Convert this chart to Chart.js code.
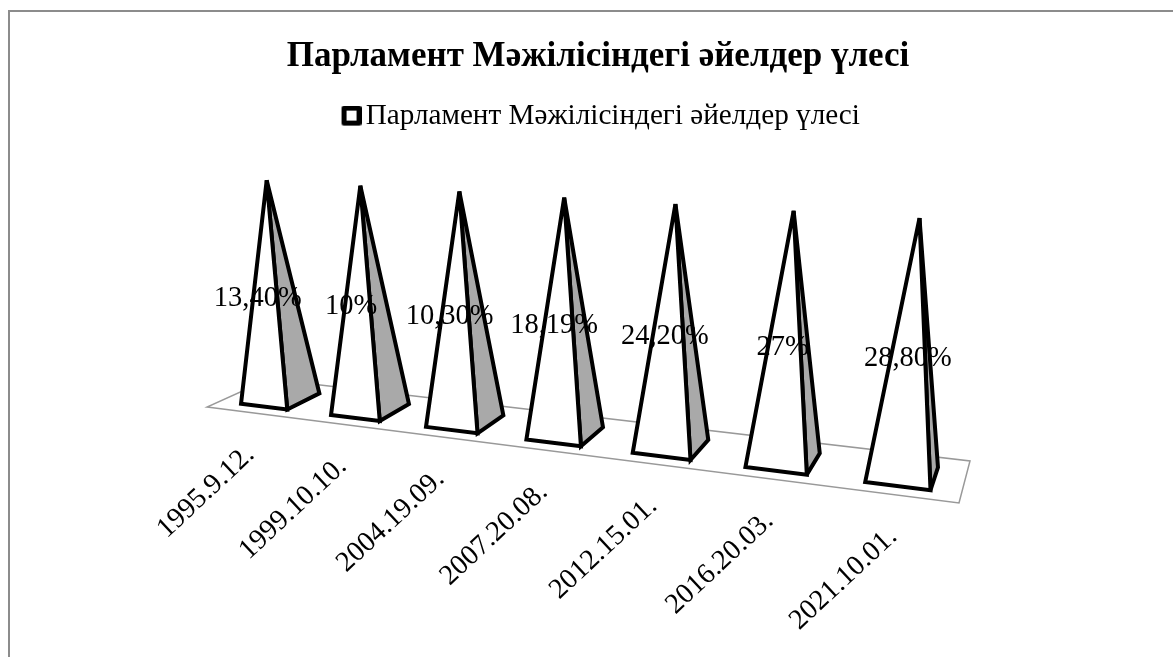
<!DOCTYPE html>
<html>
<head>
<meta charset="utf-8">
<title>Парламент Мәжілісіндегі әйелдер үлесі</title>
<script src="https://cdn.jsdelivr.net/npm/chart.js@4/dist/chart.umd.min.js"></script>
<style>
  html, body { margin: 0; padding: 0; background: #fff; }
  canvas { display: block; }
</style>
</head>
<body>
<canvas id="shareChart" width="1173" height="657"></canvas>
<script>
// data
const chartTitle = "Парламент Мәжілісіндегі әйелдер үлесі";
const electionDates = ["1995.9.12.", "1999.10.10.", "2004.19.09.", "2007.20.08.", "2012.15.01.", "2016.20.03.", "2021.10.01."];
const womenShare = [13.4, 10, 10.3, 18.19, 24.2, 27, 28.8];
// 100% stacked chart, so every pyramid reaches the top of the axis
const stackedPercent = [100, 100, 100, 100, 100, 100, 100];

const serif = "'Liberation Serif', 'Times New Roman', serif";

// floor of the 3D box on the canvas: front-left, front-right, rear-right, rear-left
const floorA = [207, 407], floorB = [959, 503], floorC = [970, 461], floorD = [269, 379];
// vanishing point of the vertical edges and how fast height runs towards it
const vertical = [607, 4940], verticalRate = -0.0468;

const sx = floorA[0] - floorB[0] + floorC[0] - floorD[0];
const sy = floorA[1] - floorB[1] + floorC[1] - floorD[1];
const dx1 = floorB[0] - floorC[0], dx2 = floorD[0] - floorC[0];
const dy1 = floorB[1] - floorC[1], dy2 = floorD[1] - floorC[1];
const den = dx1 * dy2 - dx2 * dy1;
const g = (sx * dy2 - dx2 * sy) / den;
const h = (dx1 * sy - sx * dy1) / den;

// u along the categories, v into the depth, t up the value axis (all 0..1)
function project(u, v, t) {
  const w = g * u + h * v + 1 + t * verticalRate;
  const x = (floorB[0] - floorA[0] + g * floorB[0]) * u + (floorD[0] - floorA[0] + h * floorD[0]) * v + floorA[0] + t * verticalRate * vertical[0];
  const y = (floorB[1] - floorA[1] + g * floorB[1]) * u + (floorD[1] - floorA[1] + h * floorD[1]) * v + floorA[1] + t * verticalRate * vertical[1];
  return [x / w, y / w];
}

function polygon(ctx, points, fill, stroke, width) {
  ctx.beginPath();
  points.forEach((p, i) => i ? ctx.lineTo(p[0], p[1]) : ctx.moveTo(p[0], p[1]));
  ctx.closePath();
  ctx.fillStyle = fill;
  ctx.lineWidth = width;
  ctx.strokeStyle = stroke;
  if (fill !== "transparent") ctx.fill();
  ctx.stroke();
}

function formatShare(value) {
  return Number.isInteger(value) ? value + "%" : value.toFixed(2).replace(".", ",") + "%";
}

// legend marker, off centre in its canvas because the text sits closer than Chart.js puts it
function legendMarker() {
  const c = document.createElement("canvas");
  c.width = 36;
  c.height = 22;
  const m = c.getContext("2d");
  m.strokeStyle = "#000";
  m.fillStyle = "#fff";
  m.lineWidth = 5;
  m.lineJoin = "round";
  m.beginPath();
  m.rect(18.5, 2.5, 15, 15);
  m.fill();
  m.stroke();
  return c;
}

// bar controller that paints each bar element as a pyramid on the tilted floor
class PyramidController extends Chart.BarController {
  draw() {
    const ctx = this.chart.ctx;
    const area = this.chart.chartArea;
    const opts = this.getDataset();
    const bars = this._cachedMeta.data;
    const front = 0.2, rear = 0.75;

    ctx.save();
    ctx.lineJoin = "miter";
    ctx.miterLimit = 3;
    bars.forEach(bar => {
      const u = (bar.x - area.left) / area.width;
      const half = bar.width / 2 / area.width;
      const t = (bar.base - bar.y) / area.height;
      const apex = project(u, 0.5, t);
      const frontLeft = project(u - half, front, 0);
      const frontRight = project(u + half, front, 0);
      const rearRight = project(u + half, rear, 0);
      polygon(ctx, [frontRight, rearRight, apex], opts.sideColor, opts.borderColor, 4);
      polygon(ctx, [frontLeft, frontRight, apex], opts.backgroundColor, opts.borderColor, 4);
    });

    ctx.font = "28.5px " + serif;
    ctx.fillStyle = "#000";
    ctx.textAlign = "center";
    ctx.textBaseline = "middle";
    bars.forEach((bar, i) => {
      const u = (bar.x - area.left) / area.width;
      const p = project(u, front, (bar.base - bar.y) / area.height / 2);
      ctx.fillText(formatShare(womenShare[i]), p[0] + 2, p[1]);
    });
    ctx.restore();
  }
}
PyramidController.id = "pyramid";
PyramidController.defaults = Chart.BarController.defaults;
PyramidController.overrides = Chart.BarController.overrides;
Chart.register(PyramidController);

// outer frame, floor and the slanted date labels
const boxPlugin = {
  id: "box",
  beforeDatasetsDraw(chart) {
    const ctx = chart.ctx;
    ctx.save();
    ctx.strokeStyle = "#8c8c8c";
    ctx.lineWidth = 2;
    ctx.beginPath();
    ctx.moveTo(9, 657);
    ctx.lineTo(9, 11);
    ctx.lineTo(1173, 11);
    ctx.stroke();
    polygon(ctx, [floorA, floorB, floorC, floorD], "transparent", "#999", 1.5);
    ctx.restore();
  },
  afterDraw(chart) {
    const ctx = chart.ctx;
    const scale = chart.scales.x;
    const area = chart.chartArea;
    ctx.save();
    ctx.font = "28.5px " + serif;
    ctx.fillStyle = "#000";
    ctx.textAlign = "right";
    ctx.textBaseline = "middle";
    electionDates.forEach((date, i) => {
      const p = project((scale.getPixelForValue(i) - area.left) / area.width, 0, 0);
      ctx.save();
      ctx.translate(p[0] - 1, p[1] + 38);
      ctx.rotate(-43 * Math.PI / 180);
      ctx.fillText(date, 0, 0);
      ctx.restore();
    });
    ctx.restore();
  }
};

new Chart(document.getElementById("shareChart"), {
  type: "pyramid",
  data: {
    labels: electionDates,
    datasets: [{
      label: chartTitle,
      data: stackedPercent,
      backgroundColor: "#fff",
      borderColor: "#000",
      borderWidth: 5,
      sideColor: "#a9a9a9",
      categoryPercentage: 1,
      barPercentage: 0.52
    }]
  },
  options: {
    responsive: false,
    animation: false,
    layout: { padding: { left: 23 } },
    plugins: {
      title: {
        display: true,
        text: chartTitle,
        color: "#000",
        font: { family: serif, size: 35, weight: "bold" },
        padding: { top: 36, bottom: 14 }
      },
      legend: {
        position: "top",
        labels: {
          color: "#000",
          font: { family: serif, size: 29.2 },
          usePointStyle: true,
          pointStyle: legendMarker(),
          pointStyleWidth: 15,
          boxHeight: 15
        }
      },
      tooltip: { enabled: false }
    },
    scales: {
      x: { type: "category", display: false },
      y: { type: "linear", display: false, min: 0, max: 100 }
    }
  },
  plugins: [boxPlugin]
});
</script>
</body>
</html>
